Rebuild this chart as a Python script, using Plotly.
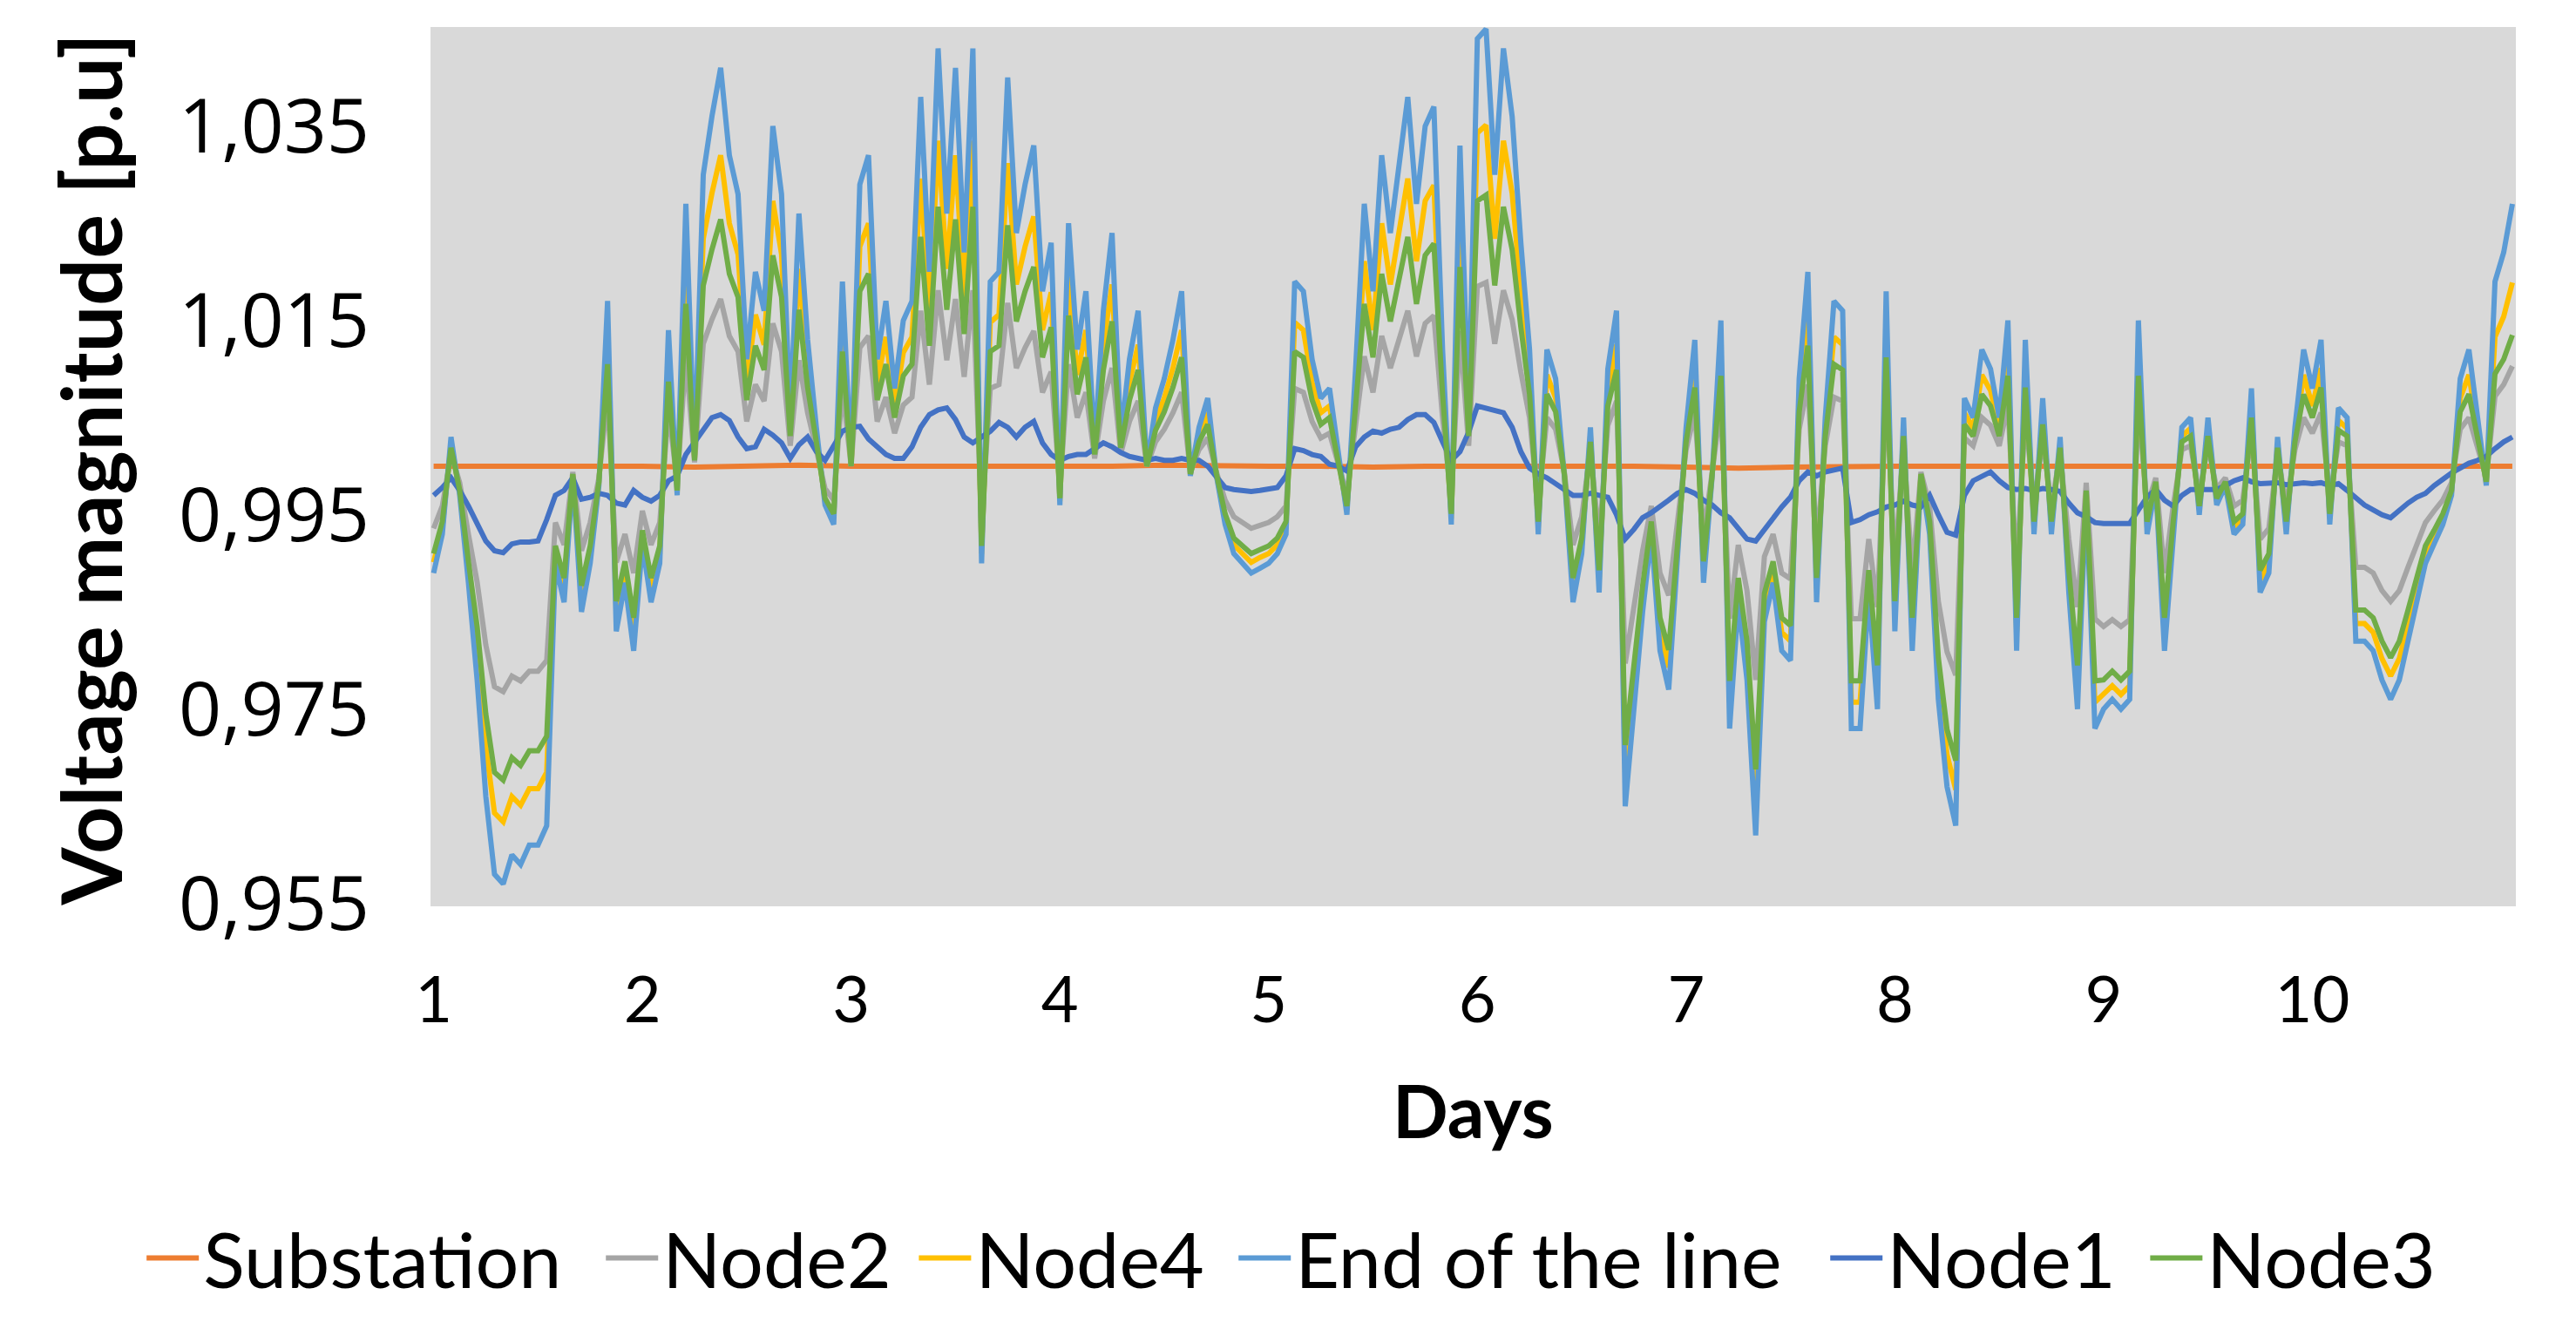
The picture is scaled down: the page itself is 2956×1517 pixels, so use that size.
import plotly.graph_objects as go

# hourly time stamps (days 1 .. 10.958)
DAYS = [1 + h / 24 for h in range(240)]

X_TICKS = [1, 2, 3, 4, 5, 6, 7, 8, 9, 10]
X_TICK_LABELS = ["1", "2", "3", "4", "5", "6", "7", "8", "9", "10"]
Y_TICKS = [0.955, 0.975, 0.995, 1.015, 1.035]
Y_TICK_LABELS = ["0,955", "0,975", "0,995", "1,015", "1,035"]

SUB_DAYS = [1 + 0.25 * k for k in range(40)] + [10.958]
SUBSTATION = [1.0000, 1.0000, 1.0001, 1.0000, 1.0000, 0.9999, 1.0000, 1.0001, 1.0000, 1.0000,
              1.0000, 0.9999, 1.0000, 1.0000, 1.0001, 1.0000, 1.0000, 1.0000, 0.9999, 1.0000,
              1.0000, 1.0000, 1.0001, 1.0000, 0.9999, 0.9998, 0.9999, 1.0000, 1.0000, 1.0000,
              1.0000, 1.0000, 1.0000, 0.9999, 1.0000, 1.0000, 1.0000, 1.0000, 1.0000, 1.0000,
              1.0000]

END_OF_LINE = [
    0.989, 0.993, 1.003, 0.997, 0.988, 0.978, 0.966, 0.958, 0.957, 0.960, 0.959, 0.961, 0.961, 0.963, 0.990, 0.986, 0.999, 0.985, 0.990, 0.998, 1.017, 0.983, 0.988, 0.981,
    0.992, 0.986, 0.990, 1.014, 0.997, 1.027, 1.001, 1.030, 1.036, 1.041, 1.032, 1.028, 1.011, 1.020, 1.016, 1.035, 1.028, 1.005, 1.026, 1.013, 1.004, 0.996, 0.994, 1.019,
    1.000, 1.029, 1.032, 1.011, 1.017, 1.008, 1.015, 1.017, 1.038, 1.020, 1.043, 1.026, 1.041, 1.022, 1.043, 0.990, 1.019, 1.020, 1.040, 1.024, 1.029, 1.033, 1.018, 1.023,
    0.996, 1.025, 1.012, 1.018, 1.002, 1.016, 1.024, 1.003, 1.011, 1.016, 1.000, 1.006, 1.009, 1.013, 1.018, 0.999, 1.004, 1.007, 0.999, 0.994, 0.991, 0.990, 0.989, 0.9895,
    0.990, 0.991, 0.993, 1.019, 1.018, 1.011, 1.007, 1.008, 1.001, 0.995, 1.010, 1.027, 1.018, 1.032, 1.024, 1.031, 1.038, 1.027, 1.035, 1.037, 1.012, 0.994, 1.033, 1.005,
    1.044, 1.045, 1.030, 1.043, 1.036, 1.023, 1.012, 0.993, 1.012, 1.009, 0.999, 0.986, 0.991, 1.004, 0.987, 1.010, 1.016, 0.965, 0.975, 0.985, 0.993, 0.981, 0.977, 0.990,
    1.004, 1.013, 0.988, 0.999, 1.015, 0.973, 0.986, 0.978, 0.962, 0.984, 0.988, 0.981, 0.980, 1.009, 1.020, 0.986, 1.005, 1.017, 1.016, 0.973, 0.973, 0.987, 0.975, 1.018,
    0.983, 1.005, 0.981, 0.999, 0.993, 0.976, 0.967, 0.963, 1.007, 1.005, 1.012, 1.010, 1.005, 1.015, 0.981, 1.013, 0.993, 1.007, 0.993, 1.003, 0.987, 0.975, 0.997, 0.973,
    0.975, 0.976, 0.975, 0.976, 1.015, 0.993, 0.998, 0.981, 0.993, 1.004, 1.005, 0.995, 1.005, 0.996, 0.998, 0.993, 0.994, 1.008, 0.987, 0.989, 1.003, 0.993, 1.004, 1.012,
    1.008, 1.013, 0.994, 1.006, 1.005, 0.982, 0.982, 0.981, 0.978, 0.976, 0.978, 0.982, 0.986, 0.990, 0.992, 0.994, 0.997, 1.009, 1.012, 1.005, 0.998, 1.019, 1.022, 1.027,
]

NODE4 = [
    0.9901, 0.9937, 1.0023, 0.9973, 0.9892, 0.9813, 0.9711, 0.9643, 0.9634, 0.9660, 0.9651, 0.9668, 0.9668, 0.9685, 0.9910, 0.9874, 0.9991, 0.9865, 0.9910, 0.9982, 1.0133, 0.9847, 0.9892, 0.9829,
    0.9928, 0.9874, 0.9910, 1.0109, 0.9973, 1.0211, 1.0008, 1.0234, 1.0281, 1.0320, 1.0250, 1.0218, 1.0086, 1.0156, 1.0125, 1.0273, 1.0218, 1.0039, 1.0203, 1.0101, 1.0031, 0.9964, 0.9946, 1.0148,
    1.0000, 1.0226, 1.0250, 1.0086, 1.0133, 1.0062, 1.0117, 1.0133, 1.0296, 1.0156, 1.0335, 1.0203, 1.0320, 1.0172, 1.0335, 0.9910, 1.0148, 1.0156, 1.0312, 1.0187, 1.0226, 1.0257, 1.0140, 1.0179,
    0.9964, 1.0195, 1.0094, 1.0140, 1.0016, 1.0125, 1.0187, 1.0023, 1.0086, 1.0125, 1.0000, 1.0047, 1.0070, 1.0101, 1.0140, 0.9991, 1.0031, 1.0055, 0.9991, 0.9946, 0.9919, 0.9910, 0.9901, 0.9906,
    0.9910, 0.9919, 0.9937, 1.0148, 1.0140, 1.0086, 1.0055, 1.0062, 1.0008, 0.9955, 1.0078, 1.0211, 1.0140, 1.0250, 1.0187, 1.0242, 1.0296, 1.0211, 1.0273, 1.0289, 1.0094, 0.9946, 1.0257, 1.0039,
    1.0343, 1.0351, 1.0234, 1.0335, 1.0281, 1.0179, 1.0094, 0.9937, 1.0094, 1.0070, 0.9991, 0.9874, 0.9919, 1.0031, 0.9883, 1.0078, 1.0125, 0.9685, 0.9775, 0.9865, 0.9937, 0.9829, 0.9793, 0.9910,
    1.0031, 1.0101, 0.9892, 0.9991, 1.0117, 0.9757, 0.9874, 0.9802, 0.9658, 0.9856, 0.9892, 0.9829, 0.9820, 1.0070, 1.0156, 0.9874, 1.0039, 1.0133, 1.0125, 0.9757, 0.9757, 0.9883, 0.9775, 1.0140,
    0.9847, 1.0039, 0.9829, 0.9991, 0.9937, 0.9784, 0.9703, 0.9667, 1.0055, 1.0039, 1.0094, 1.0078, 1.0039, 1.0117, 0.9829, 1.0101, 0.9937, 1.0055, 0.9937, 1.0023, 0.9883, 0.9775, 0.9973, 0.9757,
    0.9765, 0.9774, 0.9765, 0.9774, 1.0117, 0.9937, 0.9982, 0.9829, 0.9937, 1.0031, 1.0039, 0.9955, 1.0039, 0.9964, 0.9982, 0.9937, 0.9946, 1.0062, 0.9883, 0.9901, 1.0023, 0.9937, 1.0031, 1.0094,
    1.0062, 1.0101, 0.9946, 1.0047, 1.0039, 0.9838, 0.9838, 0.9829, 0.9802, 0.9784, 0.9802, 0.9838, 0.9874, 0.9910, 0.9928, 0.9946, 0.9973, 1.0070, 1.0094, 1.0039, 0.9982, 1.0133, 1.0154, 1.0189,
]

NODE3 = [
    0.9910, 0.9943, 1.0019, 0.9975, 0.9902, 0.9835, 0.9745, 0.9685, 0.9677, 0.9700, 0.9692, 0.9707, 0.9707, 0.9722, 0.9918, 0.9885, 0.9992, 0.9877, 0.9918, 0.9984, 1.0105, 0.9861, 0.9902, 0.9844,
    0.9934, 0.9885, 0.9918, 1.0087, 0.9975, 1.0167, 1.0006, 1.0186, 1.0223, 1.0254, 1.0198, 1.0174, 1.0068, 1.0124, 1.0099, 1.0217, 1.0174, 1.0031, 1.0161, 1.0081, 1.0025, 0.9967, 0.9951, 1.0118,
    1.0000, 1.0180, 1.0198, 1.0068, 1.0105, 1.0050, 1.0093, 1.0105, 1.0236, 1.0124, 1.0267, 1.0161, 1.0254, 1.0136, 1.0267, 0.9918, 1.0118, 1.0124, 1.0248, 1.0149, 1.0180, 1.0205, 1.0112, 1.0143,
    0.9967, 1.0155, 1.0074, 1.0112, 1.0012, 1.0099, 1.0149, 1.0019, 1.0068, 1.0099, 1.0000, 1.0037, 1.0056, 1.0081, 1.0112, 0.9992, 1.0025, 1.0043, 0.9992, 0.9951, 0.9926, 0.9918, 0.9910, 0.9914,
    0.9918, 0.9926, 0.9943, 1.0118, 1.0112, 1.0068, 1.0043, 1.0050, 1.0006, 0.9959, 1.0062, 1.0167, 1.0112, 1.0198, 1.0149, 1.0192, 1.0236, 1.0167, 1.0217, 1.0229, 1.0074, 0.9951, 1.0205, 1.0031,
    1.0273, 1.0279, 1.0186, 1.0267, 1.0223, 1.0143, 1.0074, 0.9943, 1.0074, 1.0056, 0.9992, 0.9885, 0.9926, 1.0025, 0.9893, 1.0062, 1.0099, 0.9713, 0.9795, 0.9877, 0.9943, 0.9844, 0.9811, 0.9918,
    1.0025, 1.0081, 0.9902, 0.9992, 1.0093, 0.9779, 0.9885, 0.9820, 0.9688, 0.9869, 0.9902, 0.9844, 0.9836, 1.0056, 1.0124, 0.9885, 1.0031, 1.0105, 1.0099, 0.9779, 0.9779, 0.9893, 0.9795, 1.0112,
    0.9861, 1.0031, 0.9844, 0.9992, 0.9943, 0.9803, 0.9729, 0.9697, 1.0043, 1.0031, 1.0074, 1.0062, 1.0031, 1.0093, 0.9844, 1.0081, 0.9943, 1.0043, 0.9943, 1.0019, 0.9893, 0.9795, 0.9975, 0.9779,
    0.9780, 0.9789, 0.9780, 0.9789, 1.0093, 0.9943, 0.9984, 0.9844, 0.9943, 1.0025, 1.0031, 0.9959, 1.0031, 0.9967, 0.9984, 0.9943, 0.9951, 1.0050, 0.9893, 0.9910, 1.0019, 0.9943, 1.0025, 1.0074,
    1.0050, 1.0081, 0.9951, 1.0037, 1.0031, 0.9852, 0.9852, 0.9844, 0.9820, 0.9803, 0.9820, 0.9852, 0.9885, 0.9918, 0.9934, 0.9951, 0.9975, 1.0056, 1.0074, 1.0031, 0.9984, 1.0095, 1.0110, 1.0135,
]

NODE2 = [
    0.9936, 0.9959, 1.0013, 0.9983, 0.9930, 0.9881, 0.9816, 0.9773, 0.9768, 0.9784, 0.9779, 0.9789, 0.9789, 0.9800, 0.9942, 0.9919, 0.9994, 0.9913, 0.9942, 0.9988, 1.0071, 0.9901, 0.9930, 0.9890,
    0.9954, 0.9919, 0.9942, 1.0059, 0.9983, 1.0113, 1.0004, 1.0126, 1.0151, 1.0172, 1.0134, 1.0118, 1.0046, 1.0084, 1.0067, 1.0147, 1.0118, 1.0021, 1.0109, 1.0055, 1.0017, 0.9977, 0.9965, 1.0080,
    1.0000, 1.0122, 1.0134, 1.0046, 1.0071, 1.0034, 1.0063, 1.0071, 1.0160, 1.0084, 1.0181, 1.0109, 1.0172, 1.0092, 1.0181, 0.9942, 1.0080, 1.0084, 1.0168, 1.0101, 1.0122, 1.0139, 1.0076, 1.0097,
    0.9977, 1.0105, 1.0050, 1.0076, 1.0008, 1.0067, 1.0101, 1.0013, 1.0046, 1.0067, 1.0000, 1.0025, 1.0038, 1.0055, 1.0076, 0.9994, 1.0017, 1.0029, 0.9994, 0.9965, 0.9948, 0.9942, 0.9936, 0.9939,
    0.9942, 0.9948, 0.9959, 1.0080, 1.0076, 1.0046, 1.0029, 1.0034, 1.0004, 0.9971, 1.0042, 1.0113, 1.0076, 1.0134, 1.0101, 1.0130, 1.0160, 1.0113, 1.0147, 1.0155, 1.0050, 0.9965, 1.0139, 1.0021,
    1.0185, 1.0189, 1.0126, 1.0181, 1.0151, 1.0097, 1.0050, 0.9959, 1.0050, 1.0038, 0.9994, 0.9919, 0.9948, 1.0017, 0.9925, 1.0042, 1.0067, 0.9797, 0.9855, 0.9913, 0.9959, 0.9890, 0.9867, 0.9942,
    1.0017, 1.0055, 0.9930, 0.9994, 1.0063, 0.9843, 0.9919, 0.9872, 0.9780, 0.9907, 0.9930, 0.9890, 0.9884, 1.0038, 1.0084, 0.9919, 1.0021, 1.0071, 1.0067, 0.9843, 0.9843, 0.9925, 0.9855, 1.0076,
    0.9901, 1.0021, 0.9890, 0.9994, 0.9959, 0.9861, 0.9809, 0.9785, 1.0029, 1.0021, 1.0050, 1.0042, 1.0021, 1.0063, 0.9890, 1.0055, 0.9959, 1.0029, 0.9959, 1.0013, 0.9925, 0.9855, 0.9983, 0.9843,
    0.9835, 0.9842, 0.9835, 0.9842, 1.0063, 0.9959, 0.9988, 0.9890, 0.9959, 1.0017, 1.0021, 0.9971, 1.0021, 0.9977, 0.9988, 0.9959, 0.9965, 1.0034, 0.9925, 0.9936, 1.0013, 0.9959, 1.0017, 1.0050,
    1.0034, 1.0055, 0.9965, 1.0025, 1.0021, 0.9896, 0.9896, 0.9890, 0.9872, 0.9861, 0.9872, 0.9896, 0.9919, 0.9942, 0.9954, 0.9965, 0.9983, 1.0038, 1.0050, 1.0021, 0.9988, 1.0072, 1.0084, 1.0103,
]

NODE1 = [
    0.9970, 0.9978, 0.9988, 0.9975, 0.9959, 0.9940, 0.9923, 0.9913, 0.9911, 0.9920, 0.9922, 0.9922, 0.9923, 0.9945, 0.9970, 0.9975, 0.9988, 0.9966, 0.9968, 0.9972, 0.9970, 0.9962, 0.9960, 0.9975,
    0.9968, 0.9964, 0.9970, 0.9985, 0.9990, 1.0012, 1.0025, 1.0036, 1.0050, 1.0053, 1.0047, 1.0030, 1.0018, 1.0020, 1.0038, 1.0032, 1.0024, 1.0008, 1.0022, 1.0030, 1.0015, 1.0006, 1.0020, 1.0036,
    1.0040, 1.0041, 1.0028, 1.0020, 1.0012, 1.0008, 1.0008, 1.0020, 1.0040, 1.0053, 1.0058, 1.0060, 1.0048, 1.0030, 1.0024, 1.0030, 1.0036, 1.0045, 1.0040, 1.0030, 1.0040, 1.0046, 1.0024, 1.0012,
    1.0006, 1.0010, 1.0012, 1.0012, 1.0018, 1.0024, 1.0020, 1.0014, 1.0010, 1.0008, 1.0006, 1.0008, 1.0006, 1.0006, 1.0008, 1.0006, 1.0006, 1.0000, 0.9988, 0.9978, 0.9976, 0.9975, 0.9974, 0.9975,
    0.9976, 0.9978, 0.9990, 1.0018, 1.0016, 1.0012, 1.0010, 1.0002, 1.0000, 0.9995, 1.0020, 1.0030, 1.0036, 1.0034, 1.0038, 1.0040, 1.0048, 1.0053, 1.0053, 1.0045, 1.0025, 1.0006, 1.0015, 1.0035,
    1.0062, 1.0060, 1.0058, 1.0055, 1.0040, 1.0015, 0.9998, 0.9992, 0.9988, 0.9982, 0.9975, 0.9970, 0.9970, 0.9972, 0.9970, 0.9968, 0.9950, 0.9925, 0.9935, 0.9947, 0.9952, 0.9958, 0.9965, 0.9972,
    0.9976, 0.9972, 0.9965, 0.9960, 0.9952, 0.9947, 0.9935, 0.9925, 0.9923, 0.9935, 0.9947, 0.9958, 0.9968, 0.9985, 0.9994, 0.9990, 0.9994, 0.9996, 0.9998, 0.9942, 0.9945, 0.9950, 0.9953, 0.9958,
    0.9960, 0.9964, 0.9960, 0.9958, 0.9970, 0.9950, 0.9932, 0.9929, 0.9970, 0.9985, 0.9990, 0.9994, 0.9985, 0.9978, 0.9976, 0.9977, 0.9975, 0.9977, 0.9976, 0.9974, 0.9962, 0.9952, 0.9948, 0.9942,
    0.9941, 0.9941, 0.9940, 0.9941, 0.9955, 0.9968, 0.9976, 0.9965, 0.9959, 0.9970, 0.9976, 0.9976, 0.9977, 0.9976, 0.9980, 0.9985, 0.9988, 0.9984, 0.9982, 0.9982, 0.9983, 0.9981, 0.9982, 0.9983,
    0.9982, 0.9983, 0.9980, 0.9982, 0.9975, 0.9968, 0.9960, 0.9955, 0.9950, 0.9947, 0.9955, 0.9962, 0.9968, 0.9972, 0.9980, 0.9987, 0.9993, 0.9998, 1.0003, 1.0006, 1.0010, 1.0018, 1.0025, 1.0030,
]

SERIES = [
    ("Substation", SUB_DAYS, SUBSTATION, "#ED7D31"),
    ("Node2", DAYS, NODE2, "#A5A5A5"),
    ("Node4", DAYS, NODE4, "#FFC000"),
    ("End of the line", DAYS, END_OF_LINE, "#5B9BD5"),
    ("Node1", DAYS, NODE1, "#4472C4"),
    ("Node3", DAYS, NODE3, "#70AD47"),
]

# one legend box per entry so the single legend row can span the whole figure width
LEGEND_IDS = ["legend", "legend2", "legend3", "legend4", "legend5", "legend6"]
LEGEND_X = [0.0525, 0.2308, 0.3523, 0.4764, 0.7061, 0.8303]

fig = go.Figure()
for (name, xs, ys, color), lid in zip(SERIES, LEGEND_IDS):
    fig.add_trace(go.Scatter(x=xs, y=ys, mode="lines", name=name, legend=lid,
                             line=dict(color=color, width=6)))

legend_style = dict(orientation="h", xref="container", yref="container", y=0.0536,
                    xanchor="left", yanchor="middle",
                    font=dict(family="Lato", size=88, color="#000000"),
                    bgcolor="rgba(0,0,0,0)", itemwidth=60)
legends = {lid: dict(legend_style, x=lx) for lid, lx in zip(LEGEND_IDS, LEGEND_X)}

fig.update_layout(
    width=2956, height=1517,
    margin=dict(l=486, r=77, t=23, b=485),
    paper_bgcolor="white",
    plot_bgcolor="#d9d9d9",
    showlegend=True,
    xaxis=dict(range=[0.985, 10.975], tickmode="array", tickvals=X_TICKS, ticktext=X_TICK_LABELS,
               showgrid=False, zeroline=False, showline=False, ticks="",
               tickfont=dict(family="Lato", size=74, color="#000000"), ticklabelstandoff=58),
    yaxis=dict(range=[0.9547, 1.0452], tickmode="array", tickvals=Y_TICKS, ticktext=Y_TICK_LABELS,
               showgrid=False, zeroline=False, showline=False, ticks="",
               tickfont=dict(family="Open Sans", size=86, color="#000000"), ticklabelstandoff=69),
    annotations=[
        dict(text="<b>Days</b>", xref="paper", yref="paper", x=0.5, y=-0.231,
             xanchor="center", yanchor="middle", showarrow=False,
             font=dict(family="Lato", size=84, color="#000000")),
        dict(text="<b>Voltage magnitude [p.u]</b>", xref="paper", yref="paper", x=-0.1634, y=0.497,
             xanchor="center", yanchor="middle", textangle=-90, showarrow=False,
             font=dict(family="Lato", size=95, color="#000000")),
    ],
    **legends,
)

fig.write_html("out.html")
